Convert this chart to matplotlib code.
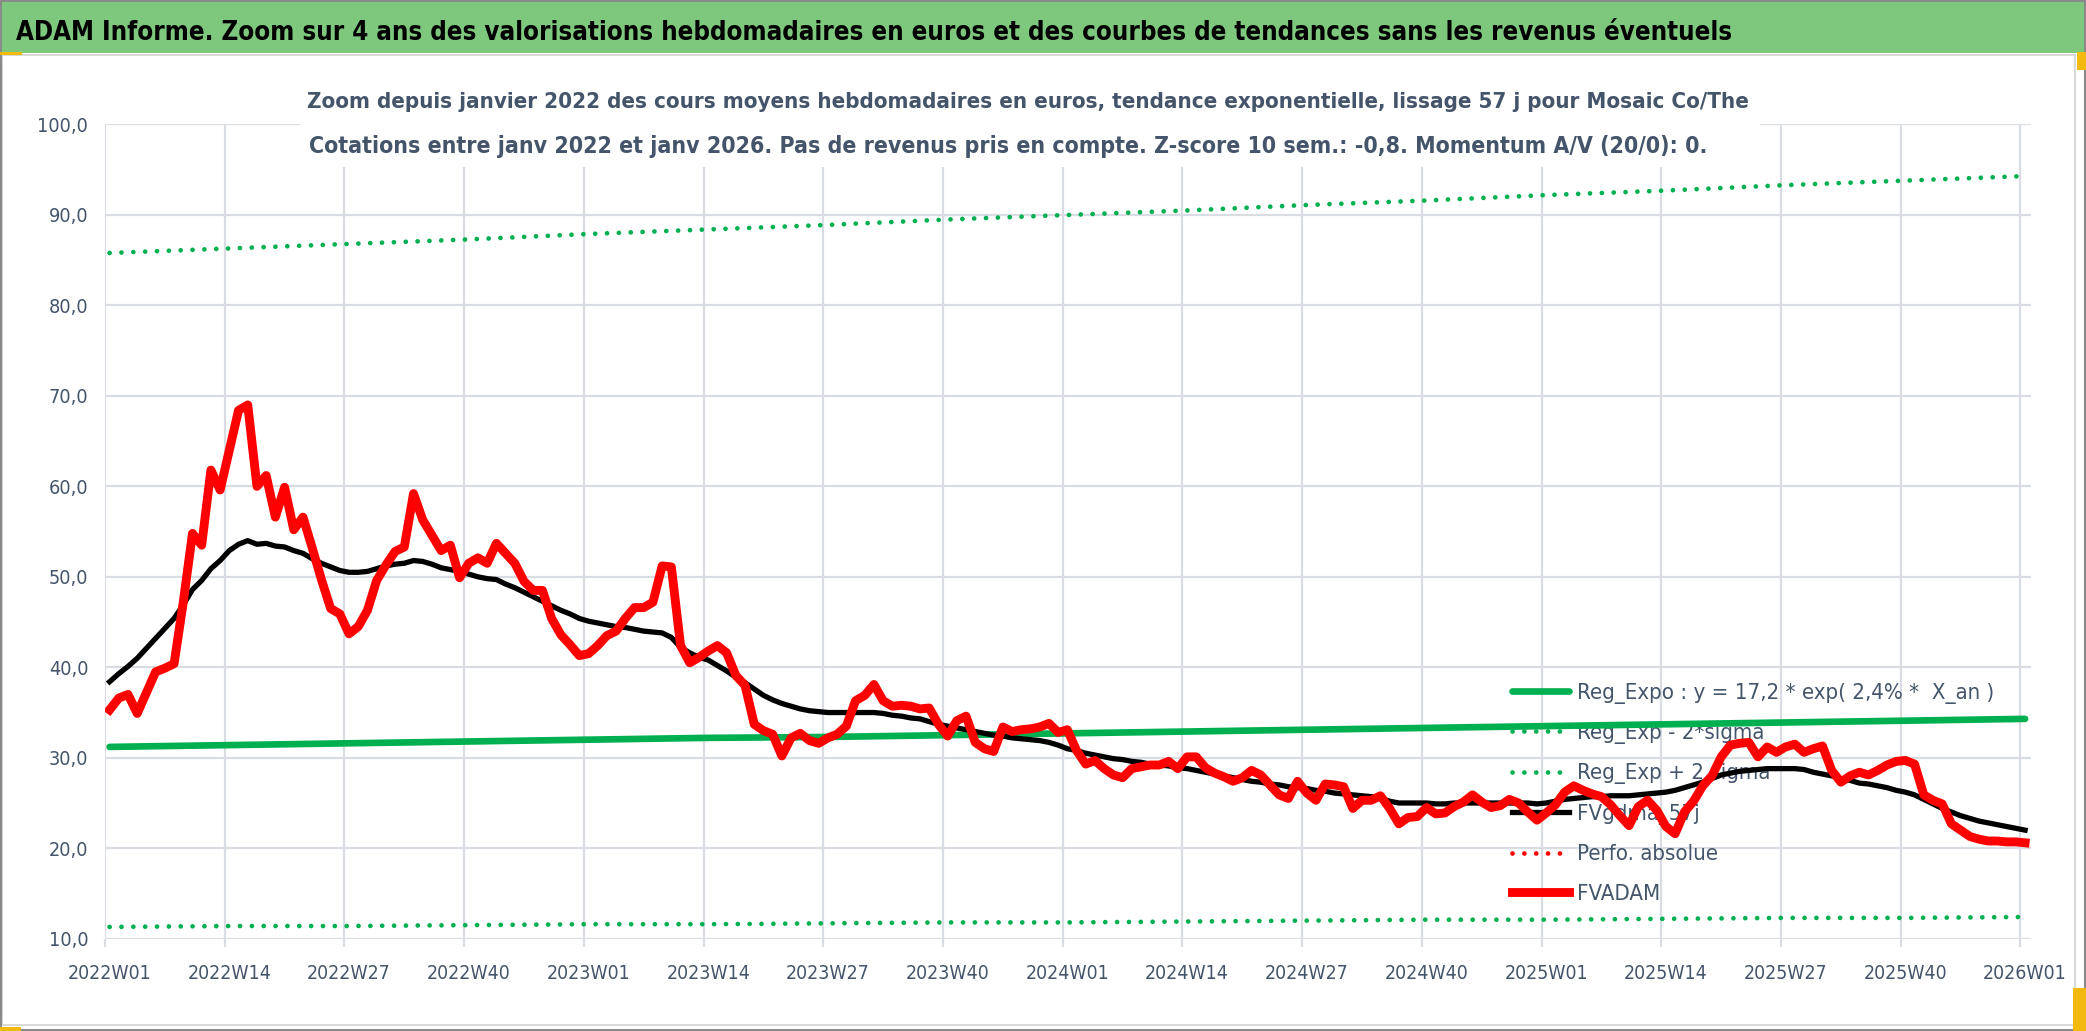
import os
import numpy as np
import matplotlib
matplotlib.use('Agg')
import matplotlib.pyplot as plt
from matplotlib import font_manager
from matplotlib.font_manager import FontProperties
from matplotlib.patches import Rectangle

W, H = 2086, 1031


# look for a narrow / condensed face (closest to the Calibri look of the source)
def find_font(patterns):
    for pat in patterns:
        for f in font_manager.fontManager.ttflist:
            if os.path.basename(f.fname).lower().startswith(pat.lower()):
                return f.fname
    return None


reg_file = find_font(['LiberationSansNarrow-Regular', 'DejaVuSansCondensed.'])
bold_file = find_font(['LiberationSansNarrow-Bold.', 'DejaVuSansCondensed-Bold.'])
FP = FontProperties(fname=reg_file) if reg_file else FontProperties(family='Liberation Sans')
FPB = FontProperties(fname=bold_file) if bold_file else FontProperties(family='Liberation Sans', weight='bold')

TXT = '#44546A'
GRID = '#D9DCE3'

# tick labels every 13 weeks
tick_labels = ['2022W01', '2022W14', '2022W27', '2022W40',
               '2023W01', '2023W14', '2023W27', '2023W40',
               '2024W01', '2024W14', '2024W27', '2024W40',
               '2025W01', '2025W14', '2025W27', '2025W40',
               '2026W01']

# weekly mean price (FVADAM), one value per week from 2022W01 to 2026W01
fvadam = [
    35.3, 36.6, 37.0, 34.9, 37.2, 39.5, 39.9, 40.4, 47.2, 54.8, 53.5, 61.8, 59.6,
    64.0, 68.4, 69.0, 60.0, 61.2, 56.6, 59.9, 55.2, 56.6, 53.2, 49.7, 46.5, 45.9,
    43.7, 44.5, 46.3, 49.6, 51.3, 52.8, 53.3, 59.2, 56.3, 54.6, 52.9, 53.5, 49.9,
    51.5, 52.1, 51.5, 53.7, 52.6, 51.5, 49.5, 48.5, 48.5, 45.4, 43.6, 42.5, 41.3,
    41.5, 42.4, 43.5, 44.0, 45.4, 46.6, 46.6, 47.2, 51.2, 51.1, 42.4, 40.5, 41.1,
    41.8, 42.4, 41.6, 39.1, 38.0, 33.7, 33.0, 32.6, 30.2, 32.2, 32.7, 31.9, 31.6,
    32.2, 32.6, 33.5, 36.3, 36.9, 38.1, 36.3, 35.7, 35.8, 35.7, 35.4, 35.5, 33.7,
    32.4, 34.1, 34.6, 31.7, 31.0, 30.7, 33.4, 32.9, 33.1, 33.2, 33.4, 33.8, 32.8,
    33.1, 30.8, 29.3, 29.7, 28.8, 28.1, 27.8, 28.8, 29.0, 29.2, 29.2, 29.6, 28.8,
    30.1, 30.1, 28.9, 28.3, 27.9, 27.4, 27.8, 28.6, 28.1, 27.0, 25.9, 25.5, 27.4,
    26.1, 25.3, 27.1, 27.0, 26.8, 24.4, 25.3, 25.3, 25.8, 24.4, 22.7, 23.4, 23.5,
    24.5, 23.8, 23.9, 24.6, 25.1, 25.9, 25.1, 24.5, 24.7, 25.4, 25.0, 24.0, 23.1,
    23.9, 24.8, 26.2, 26.9, 26.4, 26.0, 25.7, 24.8, 23.6, 22.5, 24.6, 25.3, 24.2,
    22.4, 21.6, 24.0, 25.2, 26.9, 28.0, 30.1, 31.4, 31.6, 31.7, 30.1, 31.2, 30.6,
    31.2, 31.5, 30.6, 31.0, 31.3, 28.6, 27.3, 28.0, 28.4, 28.1, 28.6, 29.2, 29.6,
    29.7, 29.3, 25.9, 25.3, 24.9, 22.7, 22.0, 21.3, 21.0, 20.8, 20.8, 20.7, 20.7,
    20.6,
]

# smoothed 57 days (FVgdma_57j)
fvgdma = [
    38.4, 39.3, 40.1, 41.0, 42.1, 43.2, 44.3, 45.4, 46.9, 48.6, 49.6, 50.9, 51.8,
    52.9, 53.6, 54.0, 53.6, 53.7, 53.4, 53.3, 52.9, 52.6, 52.0, 51.5, 51.1, 50.7,
    50.5, 50.5, 50.6, 50.9, 51.2, 51.4, 51.5, 51.8, 51.7, 51.4, 51.0, 50.8, 50.6,
    50.3, 50.0, 49.8, 49.7, 49.2, 48.8, 48.3, 47.8, 47.3, 46.8, 46.3, 45.9, 45.4,
    45.1, 44.9, 44.7, 44.5, 44.4, 44.2, 44.0, 43.9, 43.8, 43.3, 42.2, 41.6, 41.1,
    40.8, 40.2, 39.6, 38.9, 38.3, 37.6, 36.9, 36.4, 36.0, 35.7, 35.4, 35.2, 35.1,
    35.0, 35.0, 35.0, 35.0, 35.0, 35.0, 34.9, 34.7, 34.6, 34.4, 34.3, 34.0, 33.7,
    33.5, 33.3, 33.1, 32.9, 32.7, 32.5, 32.4, 32.2, 32.1, 32.0, 31.9, 31.7, 31.4,
    31.0, 30.8, 30.5, 30.3, 30.1, 29.9, 29.8, 29.6, 29.5, 29.3, 29.2, 29.1, 28.9,
    28.8, 28.6, 28.4, 28.2, 28.0, 27.8, 27.6, 27.4, 27.3, 27.1, 27.0, 26.8, 26.7,
    26.6, 26.4, 26.3, 26.1, 26.0, 25.9, 25.8, 25.7, 25.5, 25.2, 25.0, 25.0, 25.0,
    25.0, 24.9, 24.9, 25.0, 25.0, 25.0, 25.0, 25.0, 25.0, 25.0, 25.0, 25.0, 24.9,
    25.0, 25.2, 25.4, 25.5, 25.6, 25.7, 25.7, 25.8, 25.8, 25.8, 25.9, 26.0, 26.1,
    26.2, 26.4, 26.7, 27.0, 27.3, 27.7, 28.1, 28.3, 28.5, 28.6, 28.7, 28.8, 28.8,
    28.8, 28.8, 28.7, 28.4, 28.2, 28.0, 27.7, 27.5, 27.2, 27.1, 26.9, 26.7, 26.4,
    26.2, 25.9, 25.4, 24.9, 24.4, 24.0, 23.6, 23.3, 23.0, 22.8, 22.6, 22.4, 22.2,
    22.0,
]

# trend lines read at each tick (every 13 weeks)
reg_expo = [31.2, 31.4, 31.6, 31.8, 32.0, 32.2, 32.3, 32.5, 32.7,
            32.9, 33.1, 33.3, 33.5, 33.7, 33.9, 34.1, 34.3]
reg_plus = [85.8, 86.3, 86.8, 87.3, 87.9, 88.4, 88.9, 89.5, 90.0,
            90.5, 91.1, 91.6, 92.2, 92.7, 93.3, 93.8, 94.3]
reg_minus = [11.3, 11.4, 11.4, 11.5, 11.6, 11.6, 11.7, 11.8, 11.8,
             11.9, 12.0, 12.1, 12.1, 12.2, 12.3, 12.3, 12.4]

weeks = np.arange(len(fvadam))
tick_pos = np.arange(0, len(fvadam), 13)

fig = plt.figure(figsize=(W / 100, H / 100), dpi=100)
renderer = fig.canvas.get_renderer()


def fit_width(txt, target_px):
    w = txt.get_window_extent(renderer).width
    txt.set_fontsize(txt.get_fontsize() * target_px / w)


# title band and frames
fig.patches.append(Rectangle((0, 1 - 53 / H), 1, 53 / H, transform=fig.transFigure,
                             facecolor='#7ec87e', edgecolor='none', zorder=0))
fig.patches.append(Rectangle((2 / W, 1 - 1025 / H), 2073 / W, 970 / H, transform=fig.transFigure,
                             facecolor='none', edgecolor='#D9D9D9', lw=1.5, zorder=0))
fig.patches.append(Rectangle((0.0005, 0.001), 0.999, 0.998, transform=fig.transFigure,
                             facecolor='none', edgecolor='#8a8a8a', lw=1.5, zorder=0))
for x0, y0, w0, h0 in [(0, 1027, 21, 4), (0, 52, 22, 3), (2073, 988, 13, 43), (2077, 52, 9, 18)]:
    fig.patches.append(Rectangle((x0 / W, 1 - (y0 + h0) / H), w0 / W, h0 / H, transform=fig.transFigure,
                                 facecolor='#F2B90F', edgecolor='none', zorder=0))

title = fig.text(16 / W, 1 - 40 / H,
                 'ADAM Informe. Zoom sur 4 ans des valorisations hebdomadaires en euros et des courbes de tendances sans les revenus éventuels',
                 ha='left', va='baseline', fontproperties=FPB, color='black')
title.set_fontsize(20)
fit_width(title, 1713)

# main axes
ax = fig.add_axes([105 / W, 92.3 / H, (2030.6 - 105) / W, (938.7 - 124.5) / H])
ax.set_xlim(-0.5, 208.6)
ax.set_ylim(10, 100)
for s in ax.spines.values():
    s.set_visible(False)

ax.set_yticks(np.arange(10, 101, 10))
ax.set_yticklabels([f'{v:.1f}'.replace('.', ',') for v in np.arange(10, 101, 10)])
ax.set_xticks(tick_pos)
ax.set_xticklabels(tick_labels)
ax.set_xticks(tick_pos - 0.5, minor=True)
ax.set_axisbelow(True)
ax.grid(which='major', axis='y', color=GRID, lw=1.6)
ax.grid(which='minor', axis='x', color=GRID, lw=1.6)
ax.tick_params(axis='y', length=0, pad=12, labelcolor=TXT)
ax.tick_params(axis='x', which='major', length=0, pad=18, labelcolor=TXT)
ax.tick_params(axis='x', which='minor', length=6, width=1.6, color=GRID)

# size tick labels from their width in the source, a bit larger since its font is taller
probe = fig.text(0, 0, '80,0', fontproperties=FP)
probe.set_fontsize(16)
fit_width(probe, 40)
ysize = probe.get_fontsize()
probe.set_text('2022W01')
probe.set_fontsize(16)
fit_width(probe, 84)
xsize = probe.get_fontsize()
probe.remove()
for lbl in ax.get_yticklabels():
    lbl.set_fontproperties(FP)
    lbl.set_fontsize(ysize)
for lbl in ax.get_xticklabels():
    lbl.set_fontproperties(FP)
    lbl.set_fontsize(xsize)

dots = (0, (0.01, 2.5))
l_reg, = ax.plot(tick_pos, reg_expo, color='#00B050', lw=4.8, solid_capstyle='round', zorder=3,
                 label='Reg_Expo : y = 17,2 * exp( 2,4% *  X_an )')
l_minus, = ax.plot(tick_pos, reg_minus, color='#00B050', lw=3.4, linestyle=dots,
                   dash_capstyle='round', zorder=3, label='Reg_Exp - 2*sigma')
l_plus, = ax.plot(tick_pos, reg_plus, color='#00B050', lw=3.4, linestyle=dots,
                  dash_capstyle='round', zorder=3, label='Reg_Exp + 2 sigma')
l_gdma, = ax.plot(weeks, fvgdma, color='black', lw=3.8, zorder=4, label='FVgdma_57j')
l_perf, = ax.plot([], [], color='#FF0000', lw=3.4, linestyle=dots, dash_capstyle='round',
                  label='Perfo. absolue')
l_adam, = ax.plot(weeks, fvadam, color='#FF0000', lw=6.4, zorder=5, label='FVADAM',
                  solid_joinstyle='round')

# legend (drawn under the curves, like the source)
probe = fig.text(0, 0, l_reg.get_label(), fontproperties=FP)
probe.set_fontsize(20)
fit_width(probe, 415)
leg_pt = probe.get_fontsize()
row_h = probe.get_window_extent(renderer).height
probe.remove()
F = leg_pt * 100 / 72
leg_fp = FP.copy()
leg_fp.set_size(leg_pt)
leg = ax.legend(handles=[l_reg, l_minus, l_plus, l_gdma, l_perf, l_adam],
                loc='upper left', bbox_to_anchor=(1512 / W, 1 - (693 - 0.5 * row_h) / H),
                bbox_transform=fig.transFigure, frameon=False, prop=leg_fp,
                labelcolor=TXT, borderpad=0, borderaxespad=0,
                handlelength=57 / F, handletextpad=8 / F,
                labelspacing=(40.5 - row_h) / F)
leg.set_zorder(1)

# subtitle with white box hiding the top gridline
fig.patches.append(Rectangle((300 / W, 1 - 167 / H), 1460 / W, 97 / H, transform=fig.transFigure,
                             facecolor='white', edgecolor='none', zorder=2))
sub1 = fig.text(307 / W, 1 - 108 / H,
                'Zoom depuis janvier 2022 des cours moyens hebdomadaires en euros, tendance exponentielle, lissage 57 j pour Mosaic Co/The',
                ha='left', va='baseline', fontproperties=FPB, color=TXT, zorder=3)
sub1.set_fontsize(18)
fit_width(sub1, 1444)
sub2 = fig.text(309 / W, 1 - 153 / H,
                'Cotations entre janv 2022 et janv 2026. Pas de revenus pris en compte. Z-score 10 sem.: -0,8. Momentum A/V (20/0): 0.',
                ha='left', va='baseline', fontproperties=FPB, color=TXT, zorder=3)
sub2.set_fontsize(18)
fit_width(sub2, 1400)

fig.savefig('out.png', dpi=100)
